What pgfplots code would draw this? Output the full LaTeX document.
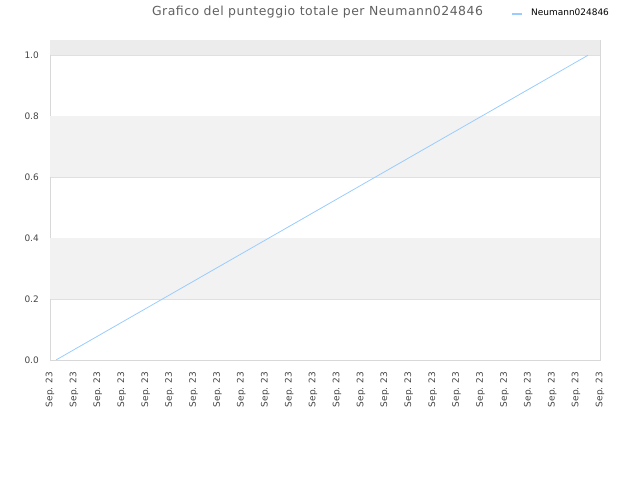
\documentclass[border=0pt]{standalone}
\usepackage{pgfplots}
\pgfplotsset{compat=1.18}
\usepackage{fontspec}
\setmainfont{DejaVu Sans}
\definecolor{band}{HTML}{F2F2F2}
\definecolor{topband}{HTML}{ECECEC}
\definecolor{gridc}{HTML}{E0E0E0}
\definecolor{axc}{HTML}{D8D8D8}
\definecolor{linec}{HTML}{99CCFF}
\definecolor{txt}{HTML}{444444}
\begin{document}
\begin{tikzpicture}[x=1bp,y=1bp]
\path[use as bounding box] (0,0) rectangle (640,480);
\begin{axis}[
  at={(50bp,120bp)}, anchor=south west,
  scale only axis, width=550bp, height=320bp,
  xmin=0, xmax=23, ymin=0, ymax=1.05,
  axis line style={color=axc},
  xtick={0,...,23},
  xticklabels={Sep. 23,Sep. 23,Sep. 23,Sep. 23,Sep. 23,Sep. 23,Sep. 23,Sep. 23,Sep. 23,Sep. 23,Sep. 23,Sep. 23,Sep. 23,Sep. 23,Sep. 23,Sep. 23,Sep. 23,Sep. 23,Sep. 23,Sep. 23,Sep. 23,Sep. 23,Sep. 23,Sep. 23},
  x tick label style={rotate=90, anchor=east, font=\fontsize{9}{10}\selectfont, text=txt, inner sep=0pt},
  xticklabel shift=12bp,
  ytick={0,0.2,0.4,0.6,0.8,1.0},
  yticklabels={0.0,0.2,0.4,0.6,0.8,1.0},
  y tick label style={font=\fontsize{9}{10}\selectfont, text=txt, inner sep=0pt},
  yticklabel shift=11bp,
  ymajorgrids, grid style={color=gridc, line width=0.5pt},
  major tick length=0pt,
  tick style={draw=none},
  clip=true,
]
\addplot[fill=band, draw=none] coordinates {(0,0.2) (23,0.2) (23,0.4) (0,0.4)} -- cycle;
\addplot[fill=band, draw=none] coordinates {(0,0.6) (23,0.6) (23,0.8) (0,0.8)} -- cycle;
\addplot[fill=topband, draw=none] coordinates {(0,1.0) (23,1.0) (23,1.05) (0,1.05)} -- cycle;
\addplot[color=linec, line width=0.8pt, mark=none] coordinates {(0.25,0) (22.5,1)};
\end{axis}
\node[anchor=center, text=txt!85, font=\fontsize{12.5}{15}\selectfont\addfontfeature{LetterSpace=4}] at (317.5,468) {Grafico del punteggio totale per Neumann024846};
\draw[color=linec, line width=1.6pt] (512,466) -- (522,466);
\node[anchor=west, inner sep=0pt, font=\fontsize{9}{10}\selectfont] at (531,467.5) {Neumann024846};
\end{tikzpicture}
\end{document}
